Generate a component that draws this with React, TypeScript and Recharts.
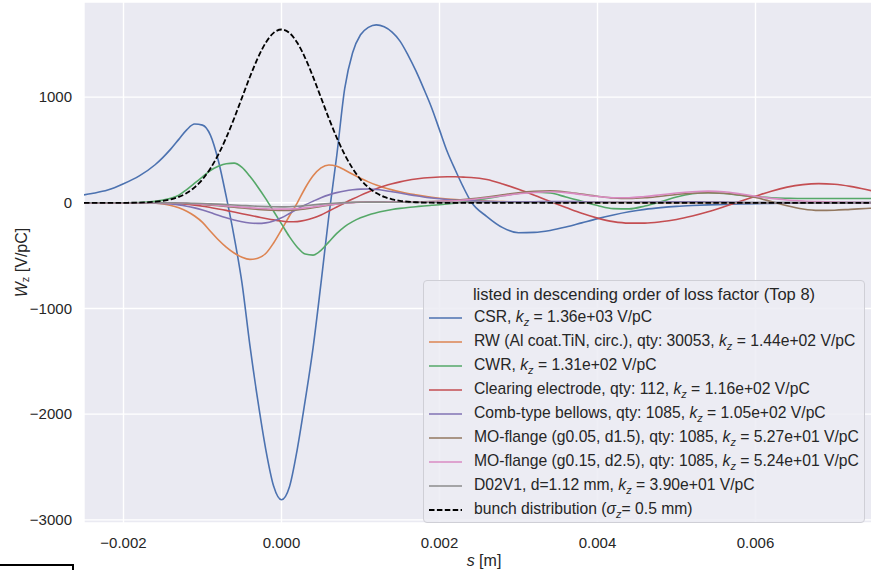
import React from 'react';
import { LineChart, Line, XAxis, YAxis, CartesianGrid, Legend, Label } from 'recharts';

// s positions [m]
const sGrid = [
  -0.0025, -0.0024, -0.0022, -0.002, -0.0018, -0.0016, -0.0015, -0.0014, -0.0013, -0.0012,
  -0.0011, -0.001, -0.0009, -0.0008, -0.0007, -0.0006, -0.0005, -0.0004, -0.0003, -0.0002,
  -0.0001, 0, 0.0001, 0.0002, 0.0003, 0.0004, 0.0005, 0.0006, 0.0007, 0.0008,
  0.0009, 0.001, 0.0011, 0.0012, 0.0013, 0.0014, 0.0015, 0.0016, 0.0017, 0.0018,
  0.0019, 0.002, 0.0021, 0.0022, 0.0023, 0.0024, 0.0026, 0.0028, 0.003, 0.0032,
  0.0034, 0.0036, 0.0038, 0.004, 0.0042, 0.0044, 0.0046, 0.0048, 0.005, 0.0052,
  0.0054, 0.0056, 0.0058, 0.006, 0.0062, 0.0064, 0.0066, 0.0068, 0.007, 0.0072,
  0.0074, 0.0075,
];

// wake potentials [V/pC]
const csr = [
  75, 88, 120, 180, 255, 360, 430, 510, 600, 690,
  745, 735, 640, 400, 60, -320, -760, -1350, -1870, -2330,
  -2680, -2810, -2690, -2330, -1870, -1370, -760, -120, 450, 1080,
  1420, 1590, 1660, 1684, 1665, 1615, 1530, 1400, 1250, 1080,
  900, 690, 480, 310, 150, 10, -130, -235, -283, -280,
  -262, -230, -190, -150, -115, -85, -62, -46, -34, -26,
  -20, -16, -12, -8, -6, -4, -3, -2, -2, -1,
  -1, -1,
];
const rw = [
  0, 0, 0, 0, 0, -5, -12, -25, -48, -80,
  -125, -185, -270, -350, -420, -475, -515, -535, -525, -480,
  -380, -255, -125, 0, 140, 255, 330, 358, 345, 310,
  270, 232, 198, 168, 143, 122, 104, 88, 75, 63,
  52, 43, 36, 30, 25, 21, 15, 11, 8, 6,
  5, 4, 4, 3, 3, 3, 2, 2, 2, 2,
  2, 1, 1, 1, 1, 1, 1, 0, 0, 0,
  0, 0,
];
const cwr = [
  0, 0, 0, 0, 3, 15, 25, 42, 72, 125,
  185, 245, 305, 345, 370, 375, 335, 250, 150, 40,
  -80, -200, -320, -420, -485, -495, -450, -370, -290, -225,
  -178, -142, -115, -95, -78, -64, -53, -44, -37, -30,
  -24, -18, -11, -3, 7, 20, 42, 66, 88, 100,
  92, 55, 15, -25, -55, -58, -30, 10, 55, 85,
  95, 88, 72, 58, 48, 43, 40, 40, 40, 40,
  40, 40,
];
const clearing = [
  0, 0, 0, 0, 0, 0, -2, -5, -8, -14,
  -22, -32, -45, -58, -72, -88, -103, -118, -133, -148,
  -162, -173, -180, -178, -166, -145, -115, -78, -40, -2,
  35, 70, 102, 132, 158, 180, 198, 213, 225, 234,
  240, 244, 246, 246, 243, 240, 220, 178, 128, 72,
  12, -45, -100, -145, -178, -192, -192, -180, -158, -125,
  -85, -38, 12, 62, 110, 148, 172, 181, 175, 155,
  125, 108,
];
const bellows = [
  0, 0, 0, 0, 0, -3, -6, -12, -20, -32,
  -48, -68, -92, -118, -142, -163, -180, -191, -195, -190,
  -172, -142, -102, -60, -20, 15, 48, 75, 96, 112,
  123, 129, 130, 126, 117, 105, 92, 79, 66, 55,
  46, 38, 31, 26, 22, 18, 13, 10, 9, 10,
  12, 12, 10, 7, 5, 5, 6, 8, 9, 9,
  8, 6, 4, 3, 2, 2, 2, 2, 2, 2,
  2, 2,
];
const moFlange1 = [
  0, 0, 0, 0, 0, 0, 0, -2, -4, -7,
  -11, -16, -22, -28, -35, -42, -49, -56, -62, -67,
  -71, -73, -72, -67, -58, -47, -35, -23, -12, -3,
  3, 7, 9, 10, 10, 10, 9, 9, 9, 10,
  12, 15, 19, 24, 30, 37, 55, 75, 95, 108,
  113, 102, 82, 62, 45, 40, 47, 62, 78, 90,
  95, 90, 75, 50, 12, -28, -58, -72, -70, -62,
  -54, -50,
];
const moFlange2 = [
  0, 0, 0, 0, 0, 0, 0, -2, -3, -6,
  -9, -13, -18, -23, -29, -35, -41, -47, -52, -56,
  -59, -60, -59, -55, -48, -39, -29, -19, -10, -3,
  2, 5, 7, 8, 8, 8, 7, 7, 7, 8,
  10, 13, 16, 20, 25, 31, 47, 66, 85, 98,
  104, 96, 78, 60, 48, 48, 60, 76, 92, 104,
  110, 104, 85, 62, 42, 27, 17, 11, 7, 5,
  3, 3,
];
const d02v1 = [
  0, 0, 0, 0, 0, 0, 0, 0, -2, -3,
  -5, -7, -10, -13, -17, -21, -25, -29, -33, -36,
  -38, -39, -37, -33, -27, -20, -13, -7, -2, 2,
  4, 5, 6, 6, 6, 5, 5, 4, 4, 4,
  4, 4, 4, 4, 4, 4, 3, 3, 3, 3,
  3, 3, 3, 3, 3, 3, 3, 3, 3, 3,
  3, 3, 3, 3, 3, 3, 3, 3, 3, 3,
  3, 3,
];
const bunch = [
  0, 0, 0, 0, 2, 10, 18, 33, 56, 92,
  146, 222, 325, 456, 615, 798, 995, 1191, 1370, 1514,
  1608, 1640, 1608, 1514, 1370, 1191, 995, 798, 615, 456,
  325, 222, 146, 92, 56, 33, 18, 10, 5, 2,
  1, 0, 0, 0, 0, 0, 0, 0, 0, 0,
  0, 0, 0, 0, 0, 0, 0, 0, 0, 0,
  0, 0, 0, 0, 0, 0, 0, 0, 0, 0,
  0, 0,
];

const xTicks = [-0.002, 0, 0.002, 0.004, 0.006];
const yTicks = [-3000, -2000, -1000, 0, 1000];

const kz = (
  <>
    <i>k</i>
    <sub style={{ fontSize: '0.7em', fontStyle: 'italic' }}>z</sub>
  </>
);

const series = [
  { key: 'csr', values: csr, color: '#4C72B0', label: <>CSR, {kz} = 1.36e+03 V/pC</> },
  { key: 'rw', values: rw, color: '#DD8452', label: <>RW (Al coat.TiN, circ.), qty: 30053, {kz} = 1.44e+02 V/pC</> },
  { key: 'cwr', values: cwr, color: '#55A868', label: <>CWR, {kz} = 1.31e+02 V/pC</> },
  { key: 'clearing', values: clearing, color: '#C44E52', label: <>Clearing electrode, qty: 112, {kz} = 1.16e+02 V/pC</> },
  { key: 'bellows', values: bellows, color: '#8172B3', label: <>Comb-type bellows, qty: 1085, {kz} = 1.05e+02 V/pC</> },
  { key: 'mo1', values: moFlange1, color: '#937860', label: <>MO-flange (g0.05, d1.5), qty: 1085, {kz} = 5.27e+01 V/pC</> },
  { key: 'mo2', values: moFlange2, color: '#DA8BC3', label: <>MO-flange (g0.15, d2.5), qty: 1085, {kz} = 5.24e+01 V/pC</> },
  { key: 'd02v1', values: d02v1, color: '#8C8C8C', label: <>D02V1, d=1.12 mm, {kz} = 3.90e+01 V/pC</> },
];

const data = sGrid.map((s, i) => {
  const row: Record<string, number> = { s, bunch: bunch[i] };
  series.forEach((sr) => {
    row[sr.key] = sr.values[i];
  });
  return row;
});

const FONT = '"Liberation Sans", Arial, Helvetica, sans-serif';
const TEXT = '#262626';

const fmtX = (v: number) => (v < 0 ? '\u2212' : '') + Math.abs(v).toFixed(3);
const fmtY = (v: number) => (v < 0 ? '\u2212' : '') + Math.abs(v).toString();

const renderLegend = () => (
  <div
    style={{
      boxSizing: 'border-box',
      width: 442,
      height: 243,
      paddingTop: 1,
      background: 'rgba(236,236,243,0.85)',
      border: '1px solid #cfcfd6',
      borderRadius: 4,
      fontFamily: FONT,
      fontSize: 15.7,
      color: TEXT,
    }}
  >
    <div style={{ height: 24, lineHeight: '24px', textAlign: 'center', fontSize: 16.5, whiteSpace: 'nowrap' }}>
      listed in descending order of loss factor (Top 8)
    </div>
    {series.map((sr) => (
      <div key={sr.key} style={{ height: 24, display: 'flex', alignItems: 'center', whiteSpace: 'nowrap' }}>
        <svg width={50} height={10} style={{ flex: 'none' }}>
          <line x1={5} x2={38} y1={5} y2={5} stroke={sr.color} strokeWidth={1.6} />
        </svg>
        <span>{sr.label}</span>
      </div>
    ))}
    <div style={{ height: 24, display: 'flex', alignItems: 'center', whiteSpace: 'nowrap' }}>
      <svg width={50} height={10} style={{ flex: 'none' }}>
        <line x1={5} x2={38} y1={5} y2={5} stroke="#000" strokeWidth={1.8} strokeDasharray="5.5 2.4" />
      </svg>
      <span>
        bunch distribution (<i>σ</i>
        <sub style={{ fontSize: '0.7em', fontStyle: 'italic' }}>z</sub>= 0.5 mm)
      </span>
    </div>
  </div>
);

const XTitle = (props: any) => {
  const vb = props.viewBox || {};
  return (
    <text x={vb.x + vb.width / 2 + 5} y={566} textAnchor="middle" fontFamily={FONT} fontSize={16} fill={TEXT}>
      <tspan fontStyle="italic">s</tspan>
      <tspan> [m]</tspan>
    </text>
  );
};

const YTitle = (props: any) => {
  const vb = props.viewBox || {};
  const cy = vb.y + vb.height / 2;
  return (
    <text
      x={21}
      y={cy}
      transform={`rotate(-90, 21, ${cy})`}
      textAnchor="middle"
      dominantBaseline="central"
      fontFamily={FONT}
      fontSize={16}
      fill={TEXT}
    >
      <tspan fontStyle="italic">W</tspan>
      <tspan fontSize={11} dy={4}>z</tspan>
      <tspan dy={-4}> [V/pC]</tspan>
    </text>
  );
};

export default function App() {
  return (
    <div style={{ position: 'absolute', left: 0, top: 0, width: 871, height: 570, overflow: 'hidden', background: '#fff' }}>
      <LineChart width={876} height={570} data={data} margin={{ top: 2, right: 2, bottom: 0, left: 0 }}>
        <CartesianGrid fill="#EAEAF2" stroke="#ffffff" strokeWidth={1.4} />
        <XAxis
          type="number"
          dataKey="s"
          domain={[-0.0025, 0.0075]}
          ticks={xTicks}
          tickFormatter={fmtX}
          allowDataOverflow
          axisLine={false}
          tickLine={false}
          tickSize={0}
          tickMargin={14}
          height={47}
          tick={{ fill: TEXT, fontSize: 15, fontFamily: FONT }}
        >
          <Label content={<XTitle />} />
        </XAxis>
        <YAxis
          type="number"
          domain={[-3030, 1900]}
          ticks={yTicks}
          tickFormatter={fmtY}
          allowDataOverflow
          axisLine={false}
          tickLine={false}
          tickSize={0}
          tickMargin={12}
          width={84}
          tick={{ fill: TEXT, fontSize: 15, fontFamily: FONT }}
        >
          <Label content={<YTitle />} />
        </YAxis>
        {series.map((sr) => (
          <Line
            key={sr.key}
            type="monotone"
            dataKey={sr.key}
            stroke={sr.color}
            strokeWidth={1.6}
            dot={false}
            activeDot={false}
            isAnimationActive={false}
          />
        ))}
        <Line
          type="monotone"
          dataKey="bunch"
          stroke="#000000"
          strokeWidth={1.8}
          strokeDasharray="5.5 2.4"
          dot={false}
          activeDot={false}
          isAnimationActive={false}
        />
        <Legend
          layout="vertical"
          align="center"
          verticalAlign="middle"
          content={renderLegend}
          wrapperStyle={{ left: 423, top: 280, width: 442, height: 243 }}
        />
      </LineChart>
      <div
        style={{
          position: 'absolute',
          left: 0,
          top: 564,
          width: 72,
          height: 10,
          borderTop: '2px solid #000',
          borderRight: '2px solid #000',
        }}
      />
    </div>
  );
}
